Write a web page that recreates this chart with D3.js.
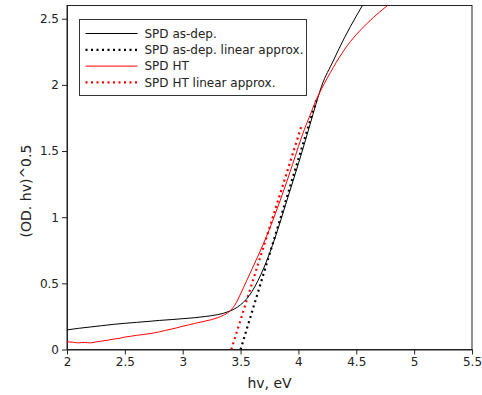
<!DOCTYPE html>
<html>
<head>
<meta charset="utf-8">
<script src="https://cdn.jsdelivr.net/npm/d3@7"></script>
<style>
  body { margin: 0; background: #fff; }
  svg text { font-family: "DejaVu Sans", Verdana, sans-serif; fill: #222; }
  .axis path, .axis line { stroke: #222; }
</style>
</head>
<body>
<div id="container"></div>
<script>
// data (hv in eV, (OD.hv)^0.5)
var asDepHv  = [2.0, 2.1, 2.2, 2.3, 2.4, 2.5, 2.6, 2.7, 2.8, 2.9, 3.0, 3.1, 3.2, 3.3, 3.35, 3.4, 3.45, 3.5, 3.55, 3.6, 3.65, 3.7, 3.75, 3.8, 3.85, 3.9, 3.95, 4.0, 4.05, 4.1, 4.15, 4.2, 4.3, 4.4, 4.5, 4.6];
var asDepVal = [0.148, 0.160, 0.170, 0.180, 0.190, 0.198, 0.205, 0.212, 0.220, 0.226, 0.233, 0.240, 0.250, 0.263, 0.273, 0.288, 0.308, 0.338, 0.380, 0.440, 0.520, 0.615, 0.725, 0.850, 0.985, 1.125, 1.265, 1.405, 1.550, 1.700, 1.850, 1.990, 2.180, 2.360, 2.520, 2.670];

var htHv  = [2.0, 2.05, 2.1, 2.15, 2.2, 2.25, 2.3, 2.35, 2.4, 2.45, 2.5, 2.55, 2.6, 2.65, 2.7, 2.75, 2.8, 2.85, 2.9, 2.95, 3.0, 3.05, 3.1, 3.15, 3.2, 3.25, 3.3, 3.35, 3.4, 3.45, 3.5, 3.55, 3.6, 3.65, 3.7, 3.75, 3.8, 3.85, 3.9, 3.95, 4.0, 4.05, 4.1, 4.15, 4.2, 4.3, 4.4, 4.5, 4.6, 4.7, 4.8, 4.9];
var htVal = [0.058, 0.055, 0.050, 0.054, 0.050, 0.057, 0.064, 0.070, 0.078, 0.084, 0.094, 0.100, 0.107, 0.112, 0.118, 0.125, 0.134, 0.144, 0.154, 0.164, 0.176, 0.186, 0.196, 0.206, 0.216, 0.226, 0.240, 0.258, 0.285, 0.335, 0.420, 0.515, 0.610, 0.705, 0.805, 0.910, 1.025, 1.145, 1.270, 1.400, 1.535, 1.660, 1.770, 1.880, 1.970, 2.130, 2.270, 2.380, 2.470, 2.550, 2.620, 2.690];

// linear approximations (end points)
var asDepFitHv  = [3.50, 4.16];
var asDepFitVal = [0.00, 1.90];
var htFitHv  = [3.42, 4.03];
var htFitVal = [0.00, 1.70];

var xTicks = [2, 2.5, 3, 3.5, 4, 4.5, 5, 5.5];
var yTicks = [0, 0.5, 1, 1.5, 2, 2.5];

var seriesNames = ["SPD as-dep.", "SPD as-dep. linear approx.", "SPD HT", "SPD HT linear approx."];
var seriesColors = ["#000000", "#000000", "#ff0000", "#ff0000"];
var seriesDotted = [false, true, false, true];

var width = 482, height = 395;
var margin = {top: 5.5, right: 10, bottom: 45.5, left: 67};
var plotW = 472 - margin.left, plotH = 349.5 - margin.top;

function zip(a, b) { return a.map(function(v, i) { return [v, b[i]]; }); }

var svg = d3.select("#container").append("svg")
  .attr("width", width)
  .attr("height", height);

var g = svg.append("g")
  .attr("transform", "translate(" + margin.left + "," + margin.top + ")");

var x = d3.scaleLinear().domain([2, 5.5]).range([0, plotW]);
var y = d3.scaleLinear().domain([0, 2.6]).range([plotH, 0]);

g.append("clipPath").attr("id", "clip")
  .append("rect").attr("width", plotW).attr("height", plotH);

var xAxis = d3.axisBottom(x).tickValues(xTicks).tickSize(5).tickSizeOuter(0).tickPadding(3)
  .tickFormat(d3.format("~g"));
var yAxis = d3.axisLeft(y).tickValues(yTicks).tickSize(5).tickSizeOuter(0).tickPadding(3)
  .tickFormat(d3.format("~g"));

g.append("g").attr("class", "x axis")
  .attr("transform", "translate(0," + plotH + ")")
  .call(xAxis)
  .selectAll("text").style("font-size", "12px");

g.append("g").attr("class", "y axis")
  .call(yAxis)
  .selectAll("text").style("font-size", "12px");

// frame
g.append("rect")
  .attr("width", plotW).attr("height", plotH)
  .attr("fill", "none").attr("stroke", "#222").attr("stroke-width", 1);

var line = d3.line()
  .curve(d3.curveMonotoneX)
  .x(function(d) { return x(d[0]); })
  .y(function(d) { return y(d[1]); });

var series = [
  zip(asDepHv, asDepVal),
  zip(asDepFitHv, asDepFitVal),
  zip(htHv, htVal),
  zip(htFitHv, htFitVal)
];

var curves = g.append("g").attr("clip-path", "url(#clip)");
// draw fits first, then measured curves on top
[1, 3, 0, 2].forEach(function(i) {
  curves.append("path")
    .datum(series[i])
    .attr("d", line)
    .attr("fill", "none")
    .attr("stroke", seriesColors[i])
    .attr("stroke-width", seriesDotted[i] ? 2.2 : 1)
    .attr("stroke-dasharray", seriesDotted[i] ? "2,3.5" : null);
});

// legend
var legend = g.append("g")
  .attr("transform", "translate(" + (79.5 - margin.left) + "," + (19.5 - margin.top) + ")");

legend.append("rect")
  .attr("width", 227).attr("height", 76)
  .attr("fill", "#fff").attr("stroke", "#333").attr("stroke-width", 1);

var items = legend.selectAll(".legend")
  .data(seriesNames).enter()
  .append("g")
    .attr("class", "legend")
    .attr("transform", function(d, i) { return "translate(0," + (14 + i * 16.3) + ")"; });

items.append("line")
  .attr("x1", 6).attr("x2", 58)
  .attr("stroke", function(d, i) { return seriesColors[i]; })
  .attr("stroke-width", function(d, i) { return seriesDotted[i] ? 2.2 : 1; })
  .attr("stroke-dasharray", function(d, i) { return seriesDotted[i] ? "2,3.5" : null; });

items.append("text")
  .attr("x", 65)
  .attr("dy", ".35em")
  .style("font-size", "12px")
  .text(function(d) { return d; });

// axis titles
svg.append("text")
  .attr("x", (margin.left + 472) / 2)
  .attr("y", 388)
  .style("text-anchor", "middle")
  .style("font-size", "14px")
  .text("hv, eV");

svg.append("text")
  .attr("transform", "translate(31,191) rotate(-90)")
  .style("text-anchor", "middle")
  .style("font-size", "14px")
  .text("(OD. hv)^0.5");
</script>
</body>
</html>
